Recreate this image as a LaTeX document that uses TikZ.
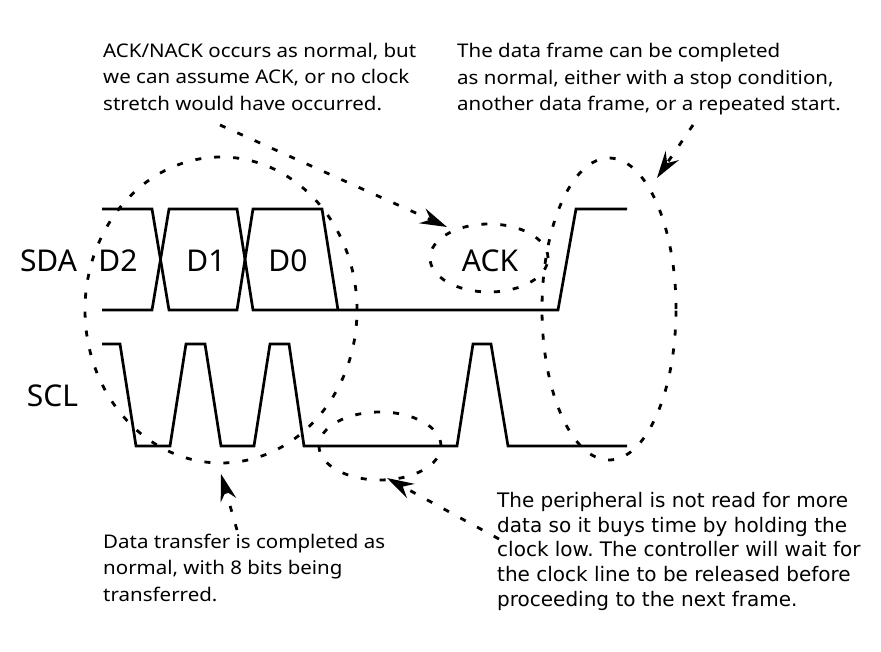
\documentclass[tikz,border=0pt]{standalone}
\usepackage{fontspec}
\setmainfont{Noto Sans}
\newfontfamily\notefont[FakeStretch=1.09]{Noto Sans}
\newfontfamily\verdanalike{DejaVu Sans}
\usetikzlibrary{shapes.geometric,arrows.meta}
\frenchspacing
\begin{document}
\begin{tikzpicture}[x=1pt,y=-1pt,
  wave/.style={line width=2.7pt, line join=miter},
  hilite/.style={draw, ellipse, line width=2.8pt, dash pattern=on 6pt off 13pt, inner sep=0pt},
  pointer/.style={line width=2.8pt, dash pattern=on 6pt off 13pt, -{Stealth[length=27pt,width=16pt,inset=9pt]}},
  sig/.style={font=\fontsize{30}{36}\selectfont, inner sep=0pt},
  note/.style={font=\notefont\fontsize{18.8}{26.5}\selectfont, align=left, anchor=north west, inner sep=0pt},
]
\fill[white] (0,0) rectangle (881,652);
\useasboundingbox (0,0) rectangle (881,652);

% signal labels
\node[sig] (sda) at (48.5,261) {SDA};
\node[sig] (scl) at (52.5,396) {SCL};
\node[sig] (d2) at (118,261) {D2};
\node[sig] (d1) at (206,261) {D1};
\node[sig] (d0) at (288,261) {D0};
\node[sig] (ack) at (490,261) {ACK};

% SDA waveform
\draw[wave] (102,209) -- (152,209) -- (169,310) -- (237,310) -- (253,209) -- (322,209) -- (338,310);
\draw[wave] (102,310) -- (152,310) -- (169,209) -- (237,209) -- (253,310) -- (558,310) -- (576,209) -- (627,209);

% SCL waveform
\draw[wave] (102,344) -- (120,344) -- (136,446) -- (170,446) -- (186,344) -- (205,344) -- (221,446) -- (254,446) -- (270,344) -- (289,344) -- (304,446) -- (457,446) -- (473,344) -- (491,344) -- (508,446) -- (627,446);

% highlight ellipses
\node[hilite, minimum width=272pt, minimum height=306pt] (e1) at (221,310) {};
\node[hilite, minimum width=118pt, minimum height=68pt] (e2) at (489,258) {};
\node[hilite, minimum width=134pt, minimum height=302pt] (e3) at (609,309) {};
\node[hilite, minimum width=122pt, minimum height=68pt] (e4) at (380,446) {};

% notes
\node[note] (n1) at (103,43) {ACK/NACK occurs as normal, but\\we can assume ACK, or no clock\\stretch would have occurred.};
\node[note] (n2) at (457,43) {The data frame can be completed\\as normal, either with a stop condition,\\another data frame, or a repeated start.};
\node[note] (n3) at (103,533.5) {Data transfer is completed as\\normal, with 8 bits being\\transferred.};
\node[note, font=\verdanalike\fontsize{20}{24.8}\selectfont] (n4) at (497,492) {The peripheral is not read for more\\data so it buys time by holding the\\clock low. The controller will wait for\\the clock line to be released before\\proceeding to the next frame.};

% pointers
\coordinate (t1) at (220,125); \coordinate (h1) at (447,227);
\coordinate (t2) at (693,125); \coordinate (h2) at (657,178);
\coordinate (t3) at (237,530); \coordinate (h3) at (221,474);
\coordinate (t4) at (499,539); \coordinate (h4) at (387,478);
\draw[pointer] (t1) -- (h1);
\draw[pointer] (t2) -- (h2);
\draw[pointer] (t3) -- (h3);
\draw[pointer] (t4) -- (h4);
\end{tikzpicture}
\end{document}
